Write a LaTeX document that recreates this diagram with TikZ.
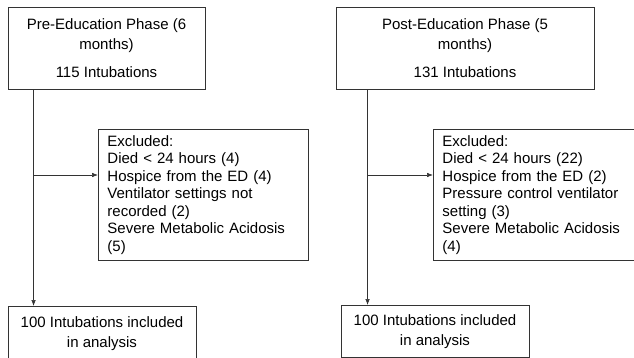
\documentclass[tikz,border=0pt]{standalone}
\usepackage{fontspec}
\setmainfont{Liberation Sans}
\usetikzlibrary{arrows.meta}
\definecolor{rule}{rgb}{0.2,0.2,0.2}
\tikzset{
  phasebox/.style={draw=rule, line width=0.9pt, align=center, inner sep=0pt, font=\fontsize{15}{20}\selectfont},
  exclbox/.style={draw=rule, line width=0.9pt, align=left, anchor=north west, text width=192pt, inner xsep=9pt, inner ysep=6pt, minimum height=131pt, font=\fontsize{15}{17.5}\selectfont},
  flow/.style={draw=rule, line width=0.6pt, -{Latex[length=6pt,width=4.5pt]}}
}
\begin{document}
\begin{tikzpicture}[x=1pt,y=-1pt]
        \useasboundingbox (0,0) rectangle (634,358);
        \node[phasebox, minimum width=197pt, minimum height=82pt] (pre) at (106.5,48) {Pre-Education Phase (6\\months)\\[8pt]115 Intubations};
        \node[phasebox, minimum width=258pt, minimum height=82pt] (post) at (465,48) {Post-Education Phase (5\\months)\\[8pt]131 Intubations};
        \node[exclbox] (exclpre) at (98,129) {Excluded:\\Died < 24 hours (4)\\Hospice from the ED (4)\\Ventilator settings not\\recorded (2)\\Severe Metabolic Acidosis\\(5)};
        \node[exclbox] (exclpost) at (433,129) {Excluded:\\Died < 24 hours (22)\\Hospice from the ED (2)\\Pressure control ventilator\\setting (3)\\Severe Metabolic Acidosis\\(4)};
        \node[phasebox, minimum width=188pt, minimum height=54pt, anchor=north] (preres) at (102,306) {100 Intubations included\\in analysis};
        \node[phasebox, minimum width=188pt, minimum height=52pt, anchor=north] (postres) at (435,305) {100 Intubations included\\in analysis};
        \coordinate (prestem) at ([xshift=26pt]pre.south west);
        \coordinate (poststem) at ([xshift=32pt]post.south west);
        \coordinate (prebranch) at (prestem |- 0,175);
        \coordinate (postbranch) at (poststem |- 0,175);
        \draw[flow] (prestem) -- (prestem |- preres.north);
        \draw[flow] (poststem) -- (poststem |- postres.north);
        \draw[flow] (prebranch) -- (exclpre.west |- prebranch);
        \draw[flow] (postbranch) -- (exclpost.west |- postbranch);
    \end{tikzpicture}
\end{document}
